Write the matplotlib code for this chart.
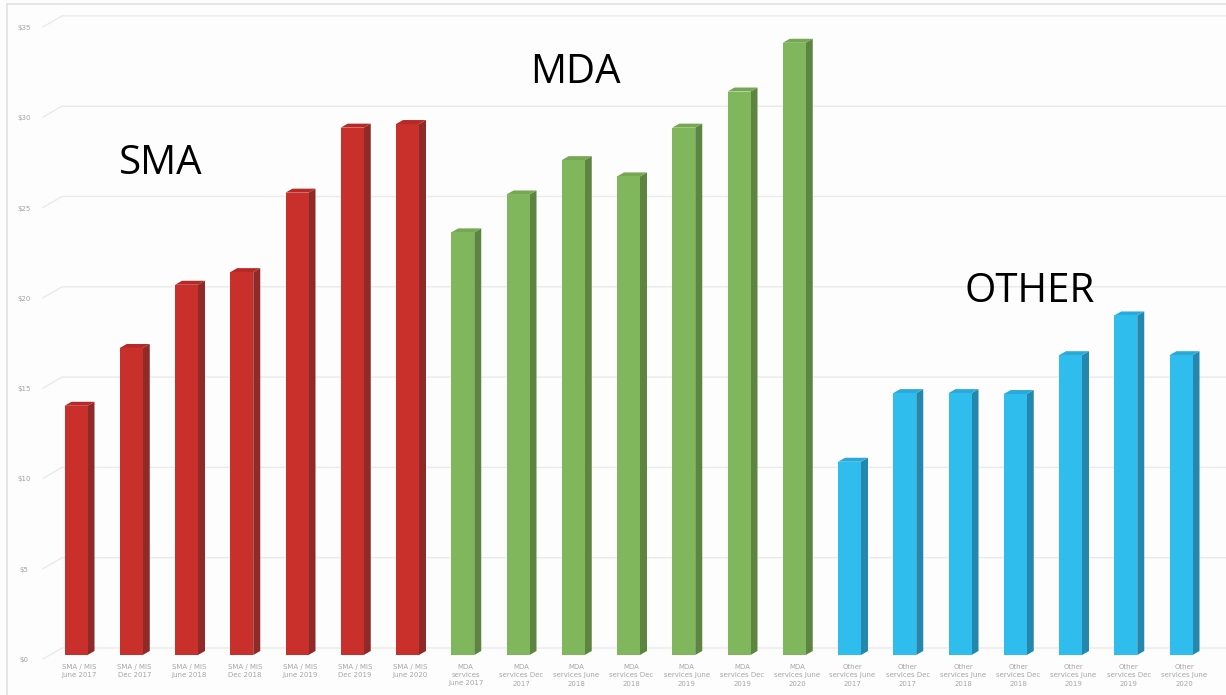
import matplotlib
matplotlib.use("Agg")
import matplotlib.pyplot as plt
from matplotlib.patches import Polygon
from matplotlib.lines import Line2D

# ---- data -------------------------------------------------------------
sma_labels = ["SMA / MIS\nJune 2017", "SMA / MIS\nDec 2017", "SMA / MIS\nJune 2018",
              "SMA / MIS\nDec 2018", "SMA / MIS\nJune 2019", "SMA / MIS\nDec 2019",
              "SMA / MIS\nJune 2020"]
sma_values = [13.8, 17.0, 20.5, 21.2, 25.6, 29.2, 29.4]

mda_labels = ["MDA\nservices\nJune 2017", "MDA\nservices Dec\n2017", "MDA\nservices June\n2018",
              "MDA\nservices Dec\n2018", "MDA\nservices June\n2019", "MDA\nservices Dec\n2019",
              "MDA\nservices June\n2020"]
mda_values = [23.4, 25.5, 27.4, 26.5, 29.2, 31.2, 33.9]

other_labels = ["Other\nservices June\n2017", "Other\nservices Dec\n2017", "Other\nservices June\n2018",
                "Other\nservices Dec\n2018", "Other\nservices June\n2019", "Other\nservices Dec\n2019",
                "Other\nservices June\n2020"]
other_values = [10.7, 14.5, 14.5, 14.45, 16.6, 18.8, 16.6]

y_ticks = [0, 5, 10, 15, 20, 25, 30, 35]
y_tick_labels = ["$0", "$5", "$10", "$15", "$20", "$25", "$30", "$35"]

group_names = ["SMA", "MDA", "OTHER"]

# ---- styling ----------------------------------------------------------
W, H, DPI = 1226, 695, 100
PX_X = 55.25      # pixels per category step
PX_Y = 18.06      # pixels per dollar
X0_PX = 76        # pixel centre of first bar
Y0_PX = 655       # pixel row of the $0 front edge

face = {"SMA": "#C9302C", "MDA": "#80B65C", "OTHER": "#2FBDEE"}
side = {"SMA": "#8E2A28", "MDA": "#5E8442", "OTHER": "#2387AE"}
top = {"SMA": "#B52A27", "MDA": "#76A854", "OTHER": "#2AAAD8"}

fig = plt.figure(figsize=(W / DPI, H / DPI), dpi=DPI, facecolor="#FDFDFD")
ax = fig.add_axes([0, (H - Y0_PX) / H, 1, 35 * PX_Y / H])
ax.set_facecolor("none")
ax.set_xlim(-X0_PX / PX_X, (W - X0_PX) / PX_X)
ax.set_ylim(0, 35)
ax.axis("off")

def dx(px):
    return px / PX_X

def dy(px):
    return px / PX_Y

# outer chart border
fig.add_artist(Line2D([7 / W, 7 / W], [0, 1 - 4 / H], color="#E2E2E2", lw=1.2))
fig.add_artist(Line2D([7 / W, 1], [1 - 4 / H, 1 - 4 / H], color="#E2E2E2", lw=1.2))

# back-wall gridlines with the perspective stub and value labels
x_lab = -X0_PX / PX_X + dx(24)
x_stub0 = -X0_PX / PX_X + dx(43)
x_wall = -X0_PX / PX_X + dx(62)
x_end = (W - X0_PX) / PX_X
for v, lab in zip(y_ticks, y_tick_labels):
    yb = v + dy(7)
    ax.plot([x_stub0, x_wall, x_end], [v - dy(4), yb, yb], color="#EAEAEA",
            lw=1.0, clip_on=False, zorder=1)
    ax.text(x_lab, v - dy(5), lab, ha="center", va="center", fontsize=5,
            color="#A3A3A3", clip_on=False)

# bars with a simple extruded 3D look
all_values = sma_values + mda_values + other_values
all_labels = sma_labels + mda_labels + other_labels
groups = ["SMA"] * len(sma_values) + ["MDA"] * len(mda_values) + ["OTHER"] * len(other_values)
xs = list(range(len(all_values)))
bw = dx(23)
ddx, ddy = dx(7), dy(4)

ax.bar(xs, all_values, width=bw, color=[face[g] for g in groups], zorder=3,
       linewidth=0)
for x, v, g in zip(xs, all_values, groups):
    xl, xr = x - bw / 2, x + bw / 2
    ax.add_patch(Polygon([(xr, 0), (xr + ddx, ddy), (xr + ddx, v + ddy), (xr, v)],
                         closed=True, facecolor=side[g], edgecolor="none", zorder=2))
    ax.add_patch(Polygon([(xl, v), (xl + ddx, v + ddy), (xr + ddx, v + ddy), (xr, v)],
                         closed=True, facecolor=top[g], edgecolor="none", zorder=2))

# category labels under the bars
for x, lab in zip(xs, all_labels):
    ax.text(x + dx(3), -dy(9), lab, ha="center", va="top", fontsize=5,
            color="#A6A6A6", linespacing=1.45, clip_on=False)

# group captions
caption_pos = [(161, 164), (575, 73), (1030, 292)]
for name, (px, py) in zip(group_names, caption_pos):
    fig.text(px / W, 1 - py / H, name, ha="center", va="center",
             fontsize=29, family="Open Sans", color="#000000")

fig.savefig("out.png", dpi=DPI, facecolor=fig.get_facecolor())
